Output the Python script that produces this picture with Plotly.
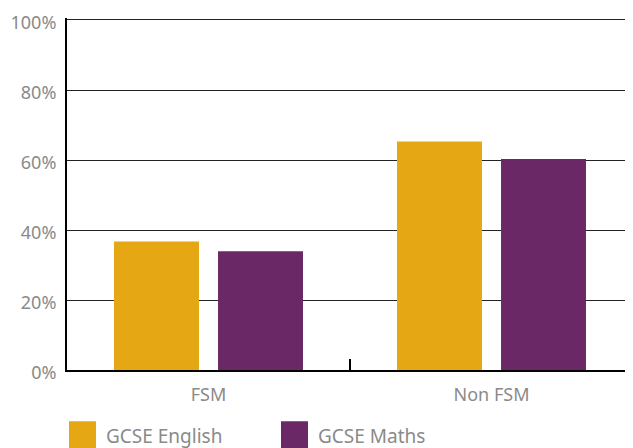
import plotly.graph_objects as go

categories = ["FSM", "Non FSM"]
series_names = ["GCSE English", "GCSE Maths"]
english = [36.7, 65.3]
maths = [33.9, 60.3]
colors = ["#E6A715", "#6A2966"]
y_ticks = [0, 20, 40, 60, 80, 100]
y_tick_labels = ["0%", "20%", "40%", "60%", "80%", "100%"]

FONT = "Noto Sans"
GREY = "#8a8a8a"
OFF = 8  # page body margin

fig = go.Figure()
for name, vals, col in zip(series_names, [english, maths], colors):
    fig.add_trace(go.Bar(x=categories, y=vals, name=name, marker_color=col,
                         marker_line_width=0, showlegend=False))

W, H = 633 - OFF, 448 - OFF
plot_h = 353
top_page = 17.5
L, R, T = 67 - OFF, 0, top_page - OFF
B = H - T - plot_h
plot_w = W - L - R
bottom_page = top_page + plot_h  # page y of plot bottom
y_top = 100 * plot_h / (bottom_page - 19.5)


def px_to_paper_x(px):
    return (px - 67) / plot_w


def px_to_paper_y(py):
    return -(py - bottom_page) / plot_h


# legend built from series names/colours
leg_x = [69, 281]
for i, (name, col) in enumerate(zip(series_names, colors)):
    fig.add_shape(type="rect", xref="paper", yref="paper",
                  x0=px_to_paper_x(leg_x[i]), x1=px_to_paper_x(leg_x[i] + 27),
                  y0=px_to_paper_y(422), y1=px_to_paper_y(460),
                  fillcolor=col, line_width=0)
    fig.add_annotation(xref="paper", yref="paper", x=px_to_paper_x(leg_x[i] + 35),
                       y=px_to_paper_y(437), text=name, showarrow=False,
                       xanchor="left", yanchor="middle",
                       font=dict(family=FONT, size=19, color=GREY))

fig.update_layout(
    width=W, height=H,
    margin=dict(l=L, r=R, t=T, b=B, pad=0),
    paper_bgcolor="white", plot_bgcolor="white",
    barmode="group", bargap=0.265, bargroupgap=0.183,
    font=dict(family=FONT, size=18, color=GREY),
    xaxis=dict(
        showline=True, linecolor="black", linewidth=2, automargin=False,
        ticks="inside", tickson="boundaries", ticklen=11, tickwidth=2,
        tickcolor="black", showgrid=False, ticklabelstandoff=7,
        tickfont=dict(family=FONT, size=18, color=GREY),
    ),
    yaxis=dict(
        range=[0, y_top], tickvals=y_ticks, ticktext=y_tick_labels,
        showline=True, linecolor="black", linewidth=2, automargin=False,
        showgrid=True, gridcolor="#222222", gridwidth=1,
        zeroline=False, ticks="", ticklabelstandoff=5, ticklabelshift=3,
        ticklabeloverflow="allow",
        tickfont=dict(family=FONT, size=18, color=GREY),
    ),
)

fig.write_html("out.html")
